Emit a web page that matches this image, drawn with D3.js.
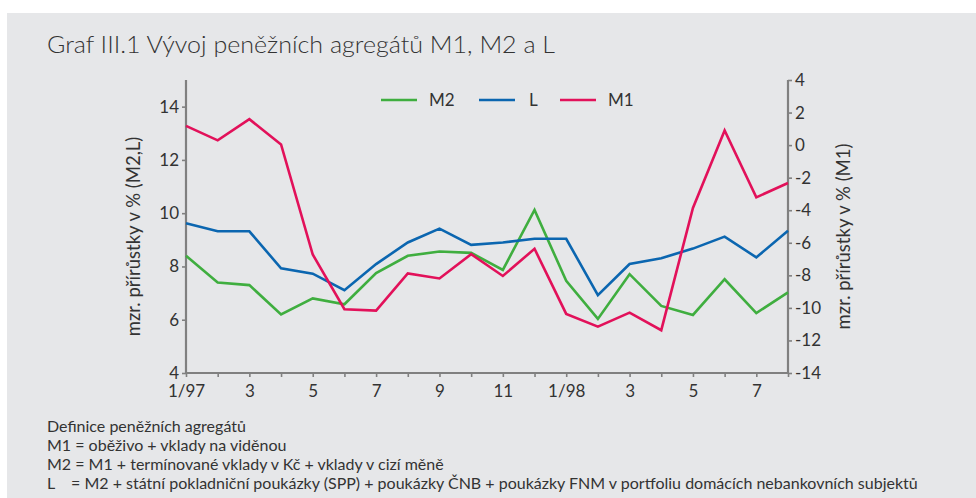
<!DOCTYPE html>
<html>
<head>
<meta charset="utf-8">
<script src="https://cdn.jsdelivr.net/npm/d3@7"></script>
<style>
  body { margin: 0; background: #fff; }
  text { font-family: Lato, "Open Sans", sans-serif; fill: #333; }
</style>
</head>
<body>
<svg class="chart" width="976" height="498"></svg>
<script>
var months = ["1/97","2","3","4","5","6","7","8","9","10","11","12",
              "1/98","2","3","4","5","6","7","8"];
var tickLabels = ["1/97","3","5","7","9","11","1/98","3","5","7"];
var m2 = [8.40, 7.40, 7.30, 6.20, 6.80, 6.58, 7.75, 8.40, 8.56, 8.51,
          7.87, 10.12, 7.46, 6.03, 7.71, 6.52, 6.18, 7.52, 6.25, 7.03];
var lAgg = [9.62, 9.32, 9.32, 7.93, 7.73, 7.11, 8.09, 8.90, 9.42, 8.81,
            8.90, 9.04, 9.04, 6.92, 8.09, 8.31, 8.67, 9.12, 8.34, 9.34];
var m1 = [1.18, 0.29, 1.59, 0.04, -6.72, -10.08, -10.17, -7.88, -8.19, -6.70,
          -8.04, -6.37, -10.37, -11.15, -10.29, -11.37, -3.86, 0.90, -3.21, -2.33];
var footnotes = ["Definice peněžních agregátů",
                 "M1 = oběživo + vklady na viděnou",
                 "M2 = M1 + termínované vklady v Kč + vklady v cizí měně",
                 "L    = M2 + státní pokladniční poukázky (SPP) + poukázky ČNB + poukázky FNM v portfoliu domácích nebankovních subjektů"];

var svg = d3.select('.chart');
var axisColor = "#808080";

svg.append('rect').attr('x', 7).attr('y', 13).attr('width', 969).attr('height', 485)
  .attr('fill', '#e6e7e9');

svg.append('text').attr('x', 47).attr('y', 53)
  .style('font-size', '24px').style('font-weight', 300)
  .attr('textLength', 508).attr('lengthAdjust', 'spacingAndGlyphs')
  .text("Graf III.1 Vývoj  peněžních agregátů  M1, M2 a L");

var pLeft = 186, pRight = 788, pTop = 80, pBottom = 373;
var x = d3.scalePoint().domain(d3.range(months.length)).range([pLeft, pRight]);
var yL = d3.scaleLinear().domain([4, 15]).range([pBottom, pTop]);
var yR = d3.scaleLinear().domain([-14, 4]).range([pBottom, pTop]);

var g = svg.append('g');

// x axis
var xAxis = g.append('g').attr('transform', 'translate(0,' + pBottom + ')')
  .call(d3.axisBottom(x).tickSize(4).tickFormat(function(i) {
    return i % 2 == 0 ? tickLabels[i / 2] : "";
  }));
// left axis
var yAxisL = g.append('g').attr('transform', 'translate(' + pLeft + ',0)')
  .call(d3.axisLeft(yL).tickValues([4, 6, 8, 10, 12, 14]).tickSize(4).tickPadding(3));
// right axis
var yAxisR = g.append('g').attr('transform', 'translate(' + pRight + ',0)')
  .call(d3.axisRight(yR).tickValues(d3.range(-14, 5, 2)).tickSize(4).tickPadding(3)
    .tickFormat(function(d) { return d < 0 ? "-" + Math.abs(d) : d; }));

[xAxis, yAxisL, yAxisR].forEach(function(a) {
  a.select('.domain').attr('stroke', axisColor).attr('stroke-width', 2.2);
  a.selectAll('.tick line').attr('stroke', axisColor).attr('stroke-width', 1.6);
  a.selectAll('.tick text').style('font-size', '17px').style('font-family', 'Lato, sans-serif').attr('fill', '#333');
});
xAxis.select('.domain').attr('d', 'M' + pLeft + ',0H' + pRight);
yAxisL.select('.domain').attr('d', 'M0,' + pTop + 'V' + pBottom);
yAxisR.select('.domain').attr('d', 'M0,' + pTop + 'V' + pBottom);
xAxis.selectAll('.tick text').attr('dy', '1.0em');

// axis titles
svg.append('text').attr('transform', 'translate(140,' + ((pTop + pBottom) / 2 + 10) + ') rotate(-90)')
  .attr('text-anchor', 'middle').style('font-size', '18.5px')
  .text("mzr. přírůstky v % (M2,L)");
svg.append('text').attr('transform', 'translate(850,' + ((pTop + pBottom) / 2 + 10) + ') rotate(-90)')
  .attr('text-anchor', 'middle').style('font-size', '18.5px')
  .text("mzr. přírůstky v % (M1)");

var series = [
  {name: "M2", values: m2, scale: yL, color: "#3fae3f"},
  {name: "L", values: lAgg, scale: yL, color: "#0b66b0"},
  {name: "M1", values: m1, scale: yR, color: "#e2115a"}
];

series.forEach(function(s) {
  var line = d3.line()
    .x(function(d, i) { return x(i); })
    .y(function(d) { return s.scale(d); });
  g.append('path').datum(s.values)
    .attr('fill', 'none').attr('stroke', s.color).attr('stroke-width', 2.6)
    .attr('stroke-linejoin', 'miter')
    .attr('d', line);
});

// legend
var legendX = [381, 479, 560];
var legend = svg.append('g');
series.forEach(function(s, i) {
  legend.append('line').attr('x1', legendX[i]).attr('x2', legendX[i] + 36)
    .attr('y1', 100).attr('y2', 100).attr('stroke', s.color).attr('stroke-width', 2.6);
  legend.append('text').attr('x', legendX[i] + 48 + (s.name == "L" ? 2 : 0)).attr('y', 106)
    .style('font-size', '17px').text(s.name);
});

// footnotes
svg.append('g').selectAll('text').data(footnotes).enter().append('text')
  .attr('x', 47).attr('y', function(d, i) { return 432 + i * 19; })
  .style('font-size', '16px').style('white-space', 'pre')
  .text(function(d) { return d; });
</script>
</body>
</html>
